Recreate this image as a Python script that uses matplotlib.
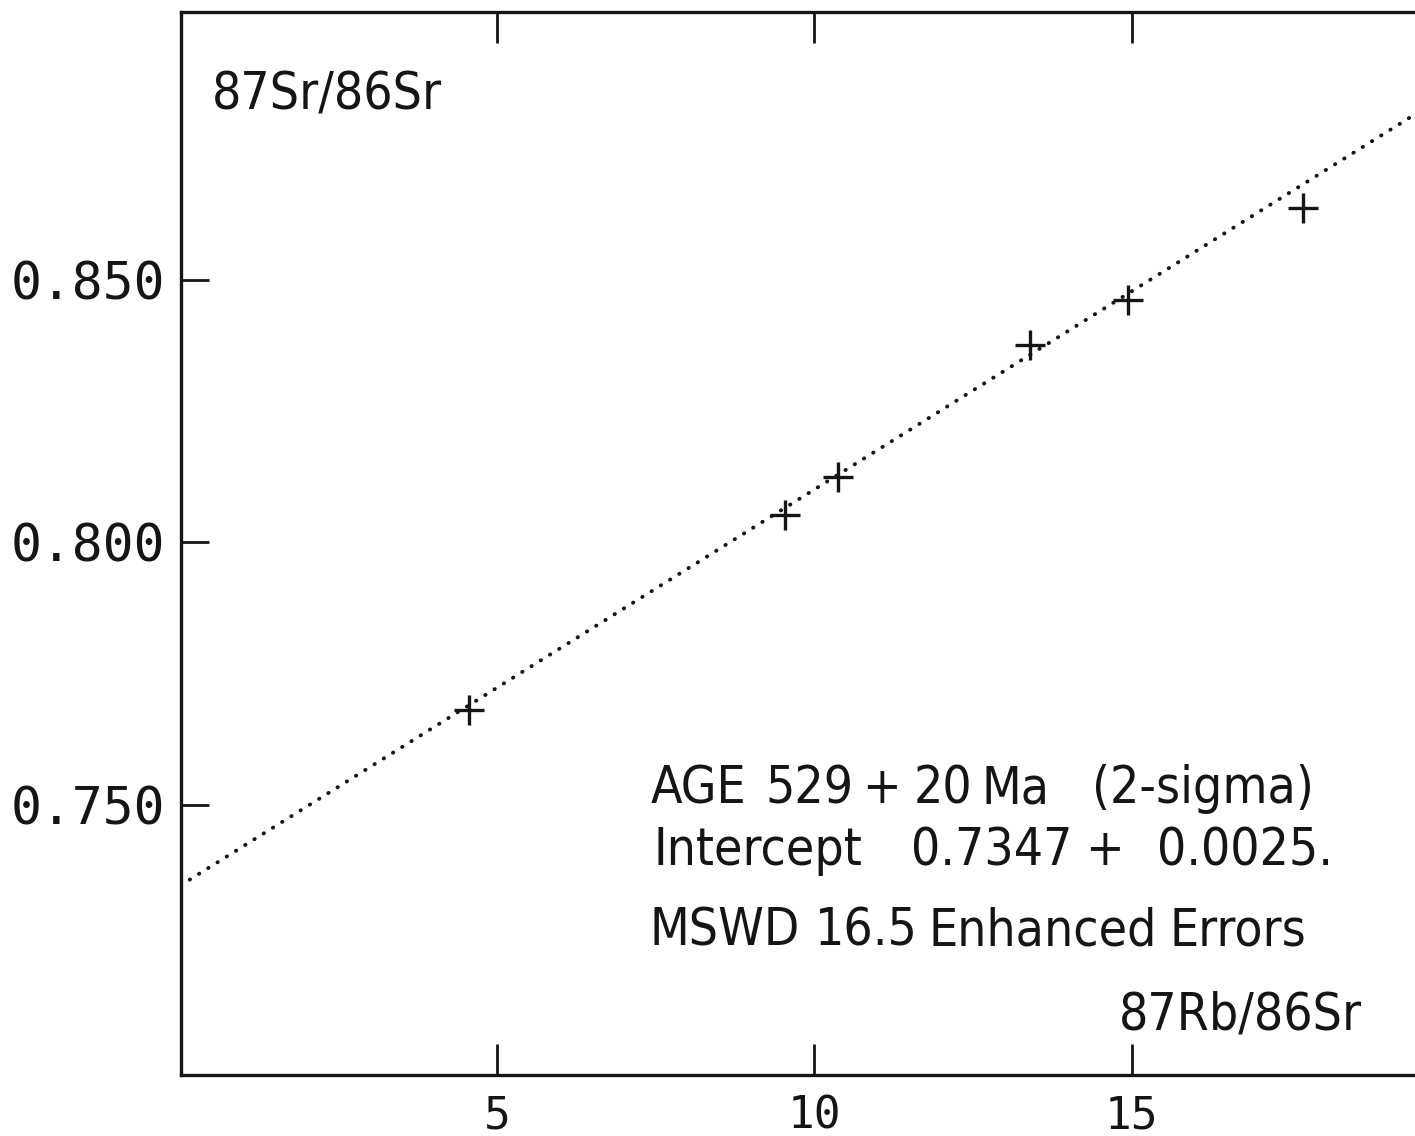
import numpy as np
import matplotlib
matplotlib.use('Agg')
import matplotlib.pyplot as plt

# isochron points (87Rb/86Sr, 87Sr/86Sr)
rb_sr = [4.55, 9.53, 10.37, 13.40, 14.94, 17.70]
sr_sr = [0.7681, 0.8053, 0.8124, 0.8376, 0.8462, 0.8637]

# fitted isochron, ends of the dotted line
fit_x = [0.0, 20.0]
fit_y = [0.7347, 0.8855]

x_ticks = [5, 10, 15]
x_tick_labels = ['5', '10', '15']
y_ticks = [0.750, 0.800, 0.850]
y_tick_labels = ['0.750', '0.800', '0.850']

info_lines = [['AGE', '529', '+', '20', 'Ma', '(2-sigma)'],
              ['Intercept', '0.7347', '+', '0.0025.'],
              ['MSWD', '16.5', 'Enhanced', 'Errors']]

W, H = 1415, 1136
ink = '#151515'
txt_font = ['DejaVu Sans', 'Liberation Sans']
tick_font = ['DejaVu Sans Mono', 'DejaVu Sans']

# fixed-pitch plotter layout: first word is left edge, the rest are centres
word_x = [[651, 810, 881, 943, 1016, 1203],
          [653, 992, 1104, 1245],
          [650, 866, 1043, 1238]]
base_y = [803, 865, 946]

fig = plt.figure(figsize=(W / 100, H / 100), dpi=100)
ax = fig.add_axes([180.5 / W, 61 / H, 1268 / W, 1063 / H])

ax.plot(fit_x, fit_y, color=ink, lw=2.8, linestyle=(0, (0.1, 2.7)),
        dash_capstyle='round', clip_on=True)
ax.plot(rb_sr, sr_sr, linestyle='none', marker='+', markersize=22,
        mew=2.4, color=ink)

ax.set_xlim(0, 20)
ax.set_ylim(0.6986, 0.9010)
ax.set_xticks(x_ticks)
ax.set_xticklabels(x_tick_labels, family=tick_font, fontsize=32, color=ink)
ax.set_yticks(y_ticks)
ax.set_yticklabels(y_tick_labels, family=tick_font, fontsize=37, color=ink)
ax.tick_params(axis='x', direction='in', length=22, width=2, top=True,
               pad=14, color=ink)
ax.tick_params(axis='y', direction='in', length=20, width=2, right=False,
               pad=11, color=ink)
for s in ax.spines.values():
    s.set_linewidth(2.4)
    s.set_color(ink)

# axis titles sit inside the frame like the plotter output
tkw = dict(family=txt_font, fontsize=37, fontstretch='condensed',
           color=ink, va='baseline')
fig.text(212 / W, 1 - 110 / H, '87Sr/86Sr', ha='left', **tkw)
fig.text(1362 / W, 1 - 1030 / H, '87Rb/86Sr', ha='right', **tkw)

for words, xs, by in zip(info_lines, word_x, base_y):
    for i, (w, wx) in enumerate(zip(words, xs)):
        fig.text(wx / W, 1 - by / H, w, ha='left' if i == 0 else 'center',
                 **tkw)

fig.savefig('out.png', dpi=100)
